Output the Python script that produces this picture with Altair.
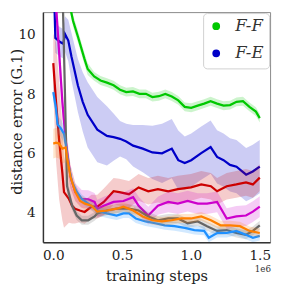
import altair as alt
import pandas as pd

# ---------------- data (x in units of 1e6 training steps) ----------------
ff_x = [0, 0.05, 0.1, 0.12, 0.144, 0.18, 0.226, 0.25, 0.297, 0.343, 0.39, 0.438, 0.485, 0.53, 0.579,
        0.626, 0.673, 0.72, 0.767, 0.814, 0.861, 0.908, 0.955, 1.002, 1.049, 1.096, 1.143, 1.19,
        1.237, 1.284, 1.331, 1.378, 1.425, 1.472, 1.5]
ff_y = [15.5, 13.0, 11.5, 11.0, 10.47, 9.93, 9.2, 8.85, 8.6, 8.46, 8.39, 8.30, 8.15, 8.07, 8.09,
        8.01, 8.01, 7.9, 7.93, 8.01, 7.92, 7.79, 7.57, 7.54, 7.61, 7.68, 7.76, 7.68,
        7.61, 7.63, 7.74, 7.76, 7.57, 7.41, 7.19]
ff_w = [0.2] * 8 + [0.15] * 27

fe_x = [0, 0.003, 0.015, 0.05, 0.073, 0.085, 0.109, 0.132, 0.179, 0.214, 0.25, 0.32, 0.39, 0.438,
        0.485, 0.53, 0.58, 0.65, 0.72, 0.79, 0.861, 0.908, 0.955, 1.002, 1.072, 1.143, 1.19,
        1.237, 1.284, 1.331, 1.401, 1.449, 1.5]
fe_y = [14.0, 12.0, 9.9, 9.76, 9.7, 10.03, 9.81, 9.27, 8.29, 7.74, 7.3, 6.8, 6.59, 6.55,
        6.49, 6.4, 6.26, 6.16, 6.03, 6.0, 6.16, 5.77, 5.67, 5.77, 6.0, 6.21, 5.88,
        5.77, 5.61, 5.55, 5.28, 5.39, 5.55]
fe_w = [0.5, 0.5, 0.5, 0.5, 0.5, 0.6, 0.7, 0.8, 0.9, 1.0, 1.1, 1.1, 1.0, 0.8,
        0.6, 0.6, 0.7, 0.8, 0.9, 1.0, 1.0, 1.0, 0.9, 0.9, 0.9, 0.9, 0.9,
        0.9, 0.9, 0.9, 0.9, 0.9, 0.9]

r_x = [0, 0.02, 0.043, 0.066, 0.078, 0.114, 0.137, 0.158, 0.193, 0.228, 0.278, 0.32, 0.367, 0.438,
       0.48, 0.55, 0.62, 0.69, 0.76, 0.835, 0.905, 1.0, 1.075, 1.145, 1.19, 1.26, 1.33, 1.40, 1.45, 1.5]
r_y = [9.05, 7.74, 6.43, 5.34, 4.69, 4.46, 4.23, 4.13, 4.07, 4.02, 4.2, 4.2, 4.36, 4.72,
       4.69, 4.62, 4.85, 4.72, 4.79, 4.72, 4.79, 4.85, 4.95, 4.89, 4.72, 4.89, 4.95, 5.02, 4.95, 5.18]
r_w = [1.0, 2.0, 2.0, 1.6, 1.2, 0.8, 0.6, 0.5, 0.4, 0.4, 0.4, 0.4, 0.45, 0.45,
       0.45, 0.45, 0.45, 0.45, 0.45, 0.45, 0.45, 0.45, 0.45, 0.45, 0.45, 0.45, 0.45, 0.45, 0.45, 0.45]

m_x = [0, 0.02, 0.043, 0.066, 0.09, 0.125, 0.16, 0.207, 0.254, 0.30, 0.32, 0.367, 0.438, 0.51,
       0.58, 0.62, 0.69, 0.76, 0.835, 0.905, 0.976, 1.05, 1.117, 1.19, 1.26, 1.33, 1.40, 1.45, 1.5]
m_y = [14.0, 11.0, 9.38, 7.74, 6.43, 5.21, 4.69, 4.46, 4.45, 4.36, 4.13, 4.23, 4.36, 4.39,
       4.52, 4.23, 3.9, 4.23, 4.36, 4.3, 4.39, 4.3, 4.3, 4.36, 3.8, 3.87, 3.9, 4.03, 4.2]
m_w = [0.6, 0.6, 0.6, 0.5, 0.5, 0.4, 0.3, 0.3, 0.3, 0.3, 0.3, 0.3, 0.3, 0.3,
       0.3, 0.3, 0.3, 0.3, 0.35, 0.35, 0.35, 0.35, 0.35, 0.35, 0.35, 0.35, 0.35, 0.35, 0.35]

g_x = [0, 0.05, 0.07, 0.085, 0.1, 0.137, 0.17, 0.207, 0.254, 0.3, 0.32, 0.39, 0.46, 0.55,
       0.62, 0.69, 0.76, 0.835, 0.905, 0.976, 1.05, 1.117, 1.19, 1.26, 1.33, 1.40, 1.45, 1.5]
g_y = [25.0, 15.0, 11.0, 8.0, 4.89, 4.23, 3.9, 3.74, 3.74, 3.87, 3.97, 4.07, 4.13, 4.13,
       4.07, 3.87, 3.74, 3.8, 3.8, 3.64, 3.7, 3.54, 3.38, 3.41, 3.31, 3.25, 3.38, 3.57]
g_w = [0.3] * 5 + [0.15] * 23

o_x = [0, 0.02, 0.043, 0.066, 0.09, 0.1, 0.125, 0.16, 0.195, 0.23, 0.278, 0.32, 0.39, 0.46,
       0.51, 0.58, 0.65, 0.72, 0.79, 0.86, 0.93, 1.0, 1.075, 1.145, 1.215, 1.285, 1.356, 1.426, 1.5]
o_y = [6.33, 6.36, 6.33, 6.16, 6.2, 5.87, 5.21, 4.69, 4.39, 4.3, 4.23, 4.03, 4.07, 4.13,
       4.2, 4.07, 3.87, 3.74, 3.7, 3.74, 3.8, 3.8, 3.87, 3.74, 3.57, 3.57, 3.54, 3.38, 3.31]
o_w = [0.5, 0.5, 0.5, 0.5, 0.5, 0.5, 0.4, 0.3, 0.2, 0.2] + [0.15] * 19

b_x = [0, 0.02, 0.031, 0.054, 0.078, 0.09, 0.114, 0.137, 0.172, 0.207, 0.254, 0.30, 0.32, 0.39,
       0.46, 0.51, 0.55, 0.6, 0.67, 0.74, 0.81, 0.88, 0.955, 1.025, 1.096, 1.13, 1.19, 1.26,
       1.33, 1.40, 1.45, 1.5]
b_y = [8.07, 7.51, 6.98, 6.85, 6.66, 6.33, 5.54, 5.02, 4.69, 4.46, 4.3, 4.15, 4.05, 3.97,
       3.9, 3.97, 3.97, 3.8, 3.7, 3.64, 3.57, 3.54, 3.48, 3.41, 3.38, 3.15, 3.31, 3.31,
       3.38, 3.25, 3.15, 3.21]
b_w = [0.3] * 6 + [0.15] * 26

series_names = ["F-F", "F-E", "run 3", "run 4", "run 5", "run 6", "run 7"]
series_colors = ["#00c800", "#0000c8", "#cc0000", "#cc00cc", "#666666", "#ff7f00", "#1e90ff"]
series_data = [(ff_x, ff_y, ff_w), (fe_x, fe_y, fe_w), (r_x, r_y, r_w), (m_x, m_y, m_w),
               (g_x, g_y, g_w), (o_x, o_y, o_w), (b_x, b_y, b_w)]
draw_order = ["F-F", "F-E", "run 3", "run 4", "run 5", "run 7", "run 6"]
legend_names = ["F-F", "F-E"]

x_ticks = [0.0, 0.5, 1.0, 1.5]
y_ticks = [4, 6, 8, 10]

# ---------------- build table ----------------
frames = {}
for name, (xs, ys, ws) in zip(series_names, series_data):
    assert len(xs) == len(ys) == len(ws), name
    frames[name] = pd.DataFrame({
        "series": name, "x": xs, "y": ys,
        "lo": [a - b for a, b in zip(ys, ws)],
        "hi": [a + b for a, b in zip(ys, ws)],
    })
color_of = dict(zip(series_names, series_colors))

FONT = "DejaVu Serif"
W, H = 234, 237

xscale = alt.Scale(domain=[-0.075, 1.575], nice=False, zero=False)
yscale = alt.Scale(domain=[3, 3 + H / 30.5], nice=False, zero=False)
cscale = alt.Scale(domain=series_names, range=series_colors)

xaxis = alt.Axis(values=x_ticks, format=".1f", title="training steps", grid=False, ticks=False,
                 labelPadding=7, titlePadding=6)
yaxis = alt.Axis(values=y_ticks, format="d", title="distance error (G.1)", grid=False, ticks=False,
                 labelPadding=8, titleX=-22, titleY=H / 2 - 6, titleBaseline="alphabetic")

legend = alt.Legend(values=legend_names, title=None, orient="top-right", offset=1,
                    symbolType="circle", symbolSize=16, symbolStrokeWidth=4,
                    labelFont=FONT, labelFontStyle="italic", labelFontSize=17, labelColor="#333",
                    labelOffset=11, rowPadding=7, padding=5,
                    fillColor="white", strokeColor="#d0d0d0", cornerRadius=4)

layers = []
for name in draw_order:
    d = frames[name]
    band = alt.Chart(d).mark_area(opacity=0.2, clip=True, color=color_of[name]).encode(
        x=alt.X("x:Q", scale=xscale, axis=xaxis),
        y=alt.Y("lo:Q", scale=yscale, axis=yaxis),
        y2="hi:Q",
    )
    line = alt.Chart(d).mark_line(strokeWidth=2.3, clip=True).encode(
        x=alt.X("x:Q", scale=xscale, axis=xaxis),
        y=alt.Y("y:Q", scale=yscale, axis=yaxis),
        color=alt.Color("series:N", scale=cscale, legend=legend),
    )
    layers += [band, line]

exp_label = alt.Chart(pd.DataFrame({"t": ["1e6"]})).mark_text(
    align="right", baseline="middle", font=FONT, fontSize=9, color="#333"
).encode(x=alt.value(W + 1), y=alt.value(H + 28), text="t:N")
layers.append(exp_label)

chart = alt.layer(*layers).properties(
    width=W, height=H,
    padding={"left": 36, "top": 0, "right": 3, "bottom": 44},
    autosize=alt.AutoSizeParams(type="none"),
).configure(
    font=FONT
).configure_view(
    stroke="#888", strokeWidth=1
).configure_axis(
    labelFont=FONT, labelFontSize=14, labelColor="#222",
    titleFont=FONT, titleFontSize=15, titleFontWeight="normal", titleColor="#222",
    domainColor="#333", domainWidth=1.5,
)

chart.save("out.html", embed_options={"renderer": "svg", "actions": False})
